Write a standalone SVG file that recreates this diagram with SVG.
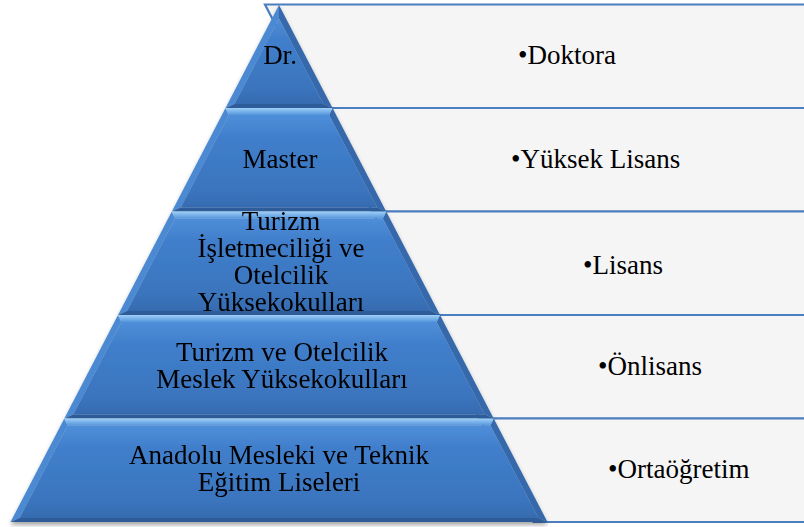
<svg xmlns="http://www.w3.org/2000/svg" width="804" height="527" viewBox="0 0 804 527">
  <defs>
    <style>
      .box { fill: #f5f5f5; stroke: #4a7ebf; stroke-width: 2.2; }
      .txt { font-family: "Liberation Serif", "Times New Roman", serif; font-size: 27px; fill: #000; }
      .mid { text-anchor: middle; }
      .bev-top { fill: url(#bevTop); }
      .bev-left { fill: #4c8ad2; }
      .bev-right { fill: #3669ab; }
      .bev-bot { fill: #2d5b98; }
      .face { fill: url(#faceGrad); }
    </style>
    <linearGradient id="faceGrad" x1="0" y1="0" x2="0" y2="1">
      <stop offset="0" stop-color="#4f8ed9"/>
      <stop offset="0.25" stop-color="#407ecb"/>
      <stop offset="0.8" stop-color="#3b75be"/>
      <stop offset="1" stop-color="#366bb0"/>
    </linearGradient>
    <linearGradient id="bevTop" x1="0" y1="0" x2="0" y2="1">
      <stop offset="0" stop-color="#9fd0f8"/>
      <stop offset="1" stop-color="#5495dc"/>
    </linearGradient>
    <filter id="shadow" x="-5%" y="-5%" width="110%" height="115%">
      <feDropShadow dx="0" dy="3" stdDeviation="2" flood-color="#000" flood-opacity="0.35"/>
    </filter>
  </defs>

  <!-- label boxes to the right of the pyramid -->
  <g id="labels">
    <g id="row-doktora">
      <polygon class="box" points="265,4.5 810,4.5 810,108 318.5,108"/>
      <text class="txt" x="518" y="64">•Doktora</text>
    </g>
    <g id="row-yuksek-lisans">
      <polygon class="box" points="318.5,108 810,108 810,211.5 372.2,211.5"/>
      <text class="txt" x="511" y="168">•Yüksek Lisans</text>
    </g>
    <g id="row-lisans">
      <polygon class="box" points="372.2,211.5 810,211.5 810,315 426,315"/>
      <text class="txt" x="583" y="274">•Lisans</text>
    </g>
    <g id="row-onlisans">
      <polygon class="box" points="426,315 810,315 810,418.5 479.7,418.5"/>
      <text class="txt" x="598" y="375">•Önlisans</text>
    </g>
    <g id="row-ortaogretim">
      <polygon class="box" points="479.7,418.5 810,418.5 810,522 533.5,522"/>
      <text class="txt" x="608" y="478">•Ortaöğretim</text>
    </g>
  </g>

  <!-- beveled pyramid tiers -->
  <g id="pyramid" filter="url(#shadow)">
    <g id="tier-dr">
      <polygon class="bev-left" points="279,5 279,18.5 234.6,104 225.5,108"/>
      <polygon class="bev-right" points="279,5 332.5,108 323.4,104 279,18.5"/>
      <polygon class="bev-bot" points="225.5,108 234.6,104 323.4,104 332.5,108"/>
      <polygon class="face" points="279,18.5 323.4,104 234.6,104"/>
      <text class="txt mid" x="280" y="64">Dr.</text>
    </g>
    <g id="tier-master">
      <polygon class="bev-left" points="225.5,108 228.9,115 180.8,207.5 171.8,211.5"/>
      <polygon class="bev-right" points="332.5,108 386.2,211.5 377.2,207.5 329.1,115"/>
      <polygon class="bev-bot" points="171.8,211.5 180.8,207.5 377.2,207.5 386.2,211.5"/>
      <polygon class="bev-top" points="225.5,108 332.5,108 329.1,115 228.9,115"/>
      <polygon class="face" points="228.9,115 329.1,115 377.2,207.5 180.8,207.5"/>
      <text class="txt mid" x="280" y="168">Master</text>
    </g>
    <g id="tier-yuksekokul">
      <polygon class="bev-left" points="171.8,211.5 175.1,218.5 127.1,311 118,315"/>
      <polygon class="bev-right" points="386.2,211.5 440,315 430.9,311 382.9,218.5"/>
      <polygon class="bev-bot" points="118,315 127.1,311 430.9,311 440,315"/>
      <polygon class="bev-top" points="171.8,211.5 386.2,211.5 382.9,218.5 175.1,218.5"/>
      <polygon class="face" points="175.1,218.5 382.9,218.5 430.9,311 127.1,311"/>
      <text class="txt mid" x="281" y="230">Turizm</text>
      <text class="txt mid" x="281" y="257">İşletmeciliği ve</text>
      <text class="txt mid" x="281" y="284">Otelcilik</text>
      <text class="txt mid" x="281" y="311">Yüksekokulları</text>
    </g>
    <g id="tier-myo">
      <polygon class="bev-left" points="118,315 121.4,322 73.3,414.5 64.3,418.5"/>
      <polygon class="bev-right" points="440,315 493.7,418.5 484.7,414.5 436.6,322"/>
      <polygon class="bev-bot" points="64.3,418.5 73.3,414.5 484.7,414.5 493.7,418.5"/>
      <polygon class="bev-top" points="118,315 440,315 436.6,322 121.4,322"/>
      <polygon class="face" points="121.4,322 436.6,322 484.7,414.5 73.3,414.5"/>
      <text class="txt mid" x="282" y="361">Turizm ve Otelcilik</text>
      <text class="txt mid" x="282" y="388">Meslek Yüksekokulları</text>
    </g>
    <g id="tier-lise">
      <polygon class="bev-left" points="64.3,418.5 67.6,425.5 19.6,518 10.5,522"/>
      <polygon class="bev-right" points="493.7,418.5 547.5,522 538.4,518 490.4,425.5"/>
      <polygon class="bev-bot" points="10.5,522 19.6,518 538.4,518 547.5,522"/>
      <polygon class="bev-top" points="64.3,418.5 493.7,418.5 490.4,425.5 67.6,425.5"/>
      <polygon class="face" points="67.6,425.5 490.4,425.5 538.4,518 19.6,518"/>
      <text class="txt mid" x="279" y="464">Anadolu Mesleki ve Teknik</text>
      <text class="txt mid" x="279" y="491">Eğitim Liseleri</text>
    </g>
  </g>
</svg>
